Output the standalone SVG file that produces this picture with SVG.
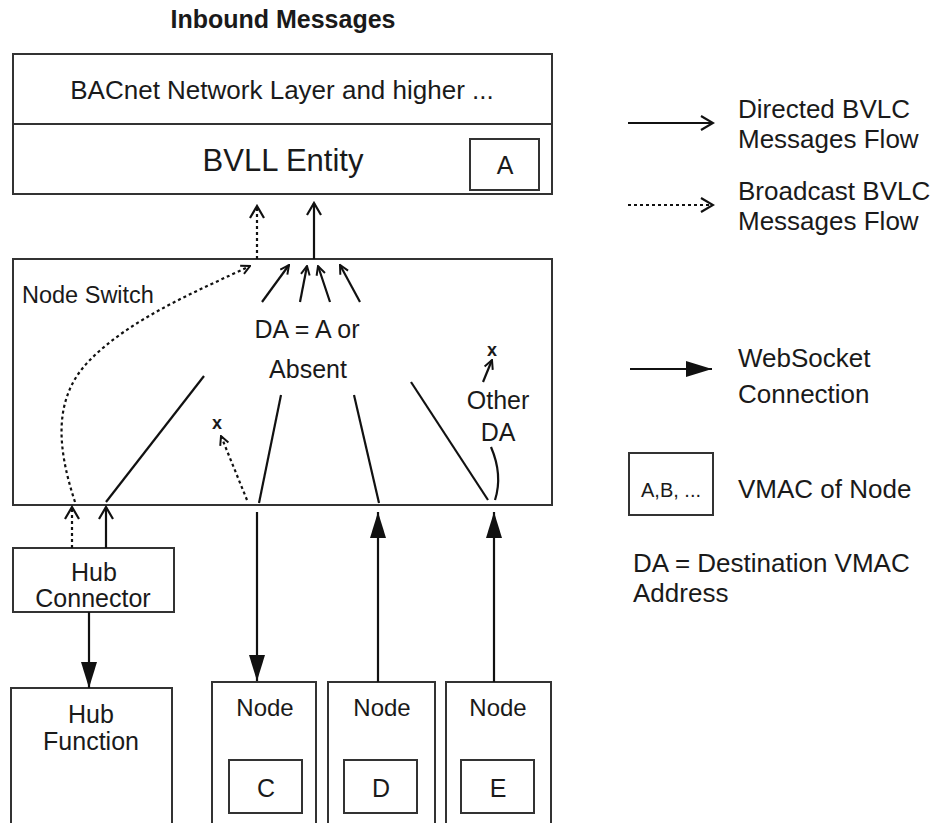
<svg xmlns="http://www.w3.org/2000/svg" width="933" height="823" viewBox="0 0 933 823">
<style>
text{font-family:"Liberation Sans",Arial,sans-serif;fill:#1a1a1a;font-size:25px}
.t{font-weight:bold;font-size:25px}
.big{font-size:31px}
.lg{font-size:26px}
.box{fill:#fff;stroke:#333;stroke-width:2}
.ln{fill:none;stroke:#111;stroke-width:2.2}
.dt{fill:none;stroke:#111;stroke-width:2.2;stroke-dasharray:3 3}
.mid{text-anchor:middle}
.x{font-size:18px;font-weight:bold}
</style>
<defs>
<marker id="open" viewBox="0 0 10 10" refX="9" refY="5" markerWidth="11" markerHeight="11" markerUnits="userSpaceOnUse" orient="auto"><path d="M1,1 L9,5 L1,9" fill="none" stroke="#111" stroke-width="1.8"/></marker>
<marker id="openL" viewBox="0 0 16 16" refX="14" refY="8" markerWidth="16" markerHeight="16" markerUnits="userSpaceOnUse" orient="auto"><path d="M2,1 L14,8 L2,15" fill="none" stroke="#111" stroke-width="2.2"/></marker>
<marker id="fill" viewBox="0 0 26 16" refX="26" refY="8" markerWidth="26" markerHeight="16" markerUnits="userSpaceOnUse" orient="auto"><path d="M0,0 L26,8 L0,16 Z" fill="#111"/></marker>
</defs>
<text class="t mid" x="283" y="28">Inbound Messages</text>
<g id="upper">
<rect class="box" x="13" y="54" width="539" height="140"/>
<line x1="13" y1="124" x2="552" y2="124" stroke="#333" stroke-width="2"/>
<text class="mid" x="282" y="99" style="font-size:26px">BACnet Network Layer and higher ...</text>
<text class="mid big" x="283" y="171">BVLL Entity</text>
<rect class="box" x="470" y="139" width="69" height="51"/>
<text class="mid" x="505" y="174">A</text>
</g>
<g id="switch">
<rect class="box" x="13" y="259" width="539" height="246"/>
<text x="22" y="303" style="font-size:23.5px">Node Switch</text>
<text class="mid" x="307" y="338">DA = A or</text>
<text class="mid" x="308" y="378">Absent</text>
<text class="mid" x="498" y="409">Other</text>
<text class="mid" x="498" y="441">DA</text>
<text class="mid x" x="492" y="356">x</text>
<text class="mid x" x="217" y="429">x</text>
</g>
<g id="hubconn">
<rect class="box" x="13" y="548" width="161" height="64"/>
<text class="mid" x="94" y="581">Hub</text>
<text class="mid" x="93" y="607">Connector</text>
</g>
<g id="hubfunc">
<rect class="box" x="11" y="688" width="161" height="150"/>
<text class="mid" x="91" y="723">Hub</text>
<text class="mid" x="91" y="750">Function</text>
</g>
<g id="nodeC">
<rect class="box" x="212" y="682" width="104" height="160"/>
<text class="mid" x="265" y="716" style="font-size:24px">Node</text>
<rect class="box" x="229" y="760" width="73" height="53"/>
<text class="mid" x="266" y="797">C</text>
</g>
<g id="nodeD">
<rect class="box" x="328" y="682" width="107" height="160"/>
<text class="mid" x="382" y="716" style="font-size:24px">Node</text>
<rect class="box" x="344" y="760" width="73" height="53"/>
<text class="mid" x="381" y="797">D</text>
</g>
<g id="nodeE">
<rect class="box" x="446" y="682" width="105" height="160"/>
<text class="mid" x="498" y="716" style="font-size:24px">Node</text>
<rect class="box" x="461" y="760" width="73" height="53"/>
<text class="mid" x="498" y="797">E</text>
</g>
<g id="legend">
<text class="lg" x="738" y="118">Directed BVLC</text>
<text class="lg" x="738" y="148">Messages Flow</text>
<text class="lg" x="738" y="200">Broadcast BVLC</text>
<text class="lg" x="738" y="230">Messages Flow</text>
<text class="lg" x="738" y="367">WebSocket</text>
<text class="lg" x="738" y="403">Connection</text>
<rect class="box" x="629" y="453" width="84" height="62"/>
<text class="mid" x="671" y="497" style="font-size:20px">A,B, ...</text>
<text class="lg" x="738" y="498">VMAC of Node</text>
<text class="lg" x="633" y="572">DA = Destination VMAC</text>
<text class="lg" x="633" y="602">Address</text>
</g>
<g id="connectors">
<line class="ln" x1="628" y1="123" x2="713" y2="123" marker-end="url(#openL)"/>
<line class="dt" x1="628" y1="205" x2="713" y2="205" marker-end="url(#openL)"/>
<line class="ln" x1="630" y1="369" x2="712" y2="369" marker-end="url(#fill)"/>
<line class="dt" x1="257" y1="259" x2="257" y2="206" marker-end="url(#openL)"/>
<line class="ln" x1="314" y1="259" x2="314" y2="203" marker-end="url(#openL)"/>
<line class="dt" x1="72" y1="548" x2="72" y2="507" marker-end="url(#openL)"/>
<line class="ln" x1="106" y1="548" x2="106" y2="507" marker-end="url(#openL)"/>
<line class="ln" x1="89" y1="612" x2="89" y2="688" marker-end="url(#fill)"/>
<line class="ln" x1="257" y1="512" x2="257" y2="681" marker-end="url(#fill)"/>
<line class="ln" x1="378" y1="682" x2="378" y2="512" marker-end="url(#fill)"/>
<line class="ln" x1="494" y1="682" x2="494" y2="512" marker-end="url(#fill)"/>
<path class="dt" d="M75,502 C58,450 52,400 88,362 C130,318 200,290 250,266" marker-end="url(#open)"/>
<line class="ln" x1="106" y1="502" x2="204" y2="376"/>
<line class="dt" x1="247" y1="500" x2="221" y2="436" marker-end="url(#open)"/>
<line class="ln" x1="259" y1="503" x2="281" y2="395"/>
<line class="ln" x1="379" y1="503" x2="354" y2="395"/>
<line class="ln" x1="488" y1="500" x2="411" y2="382"/>
<path class="ln" d="M491,447 Q503,475 495,500"/>
<line class="ln" x1="483" y1="382" x2="492" y2="360" marker-end="url(#open)"/>
<line class="ln" x1="262" y1="302" x2="289" y2="265" marker-end="url(#open)"/>
<line class="ln" x1="300" y1="302" x2="307" y2="266" marker-end="url(#open)"/>
<line class="ln" x1="330" y1="302" x2="318" y2="266" marker-end="url(#open)"/>
<line class="ln" x1="360" y1="302" x2="340" y2="265" marker-end="url(#open)"/>
</g>
</svg>
